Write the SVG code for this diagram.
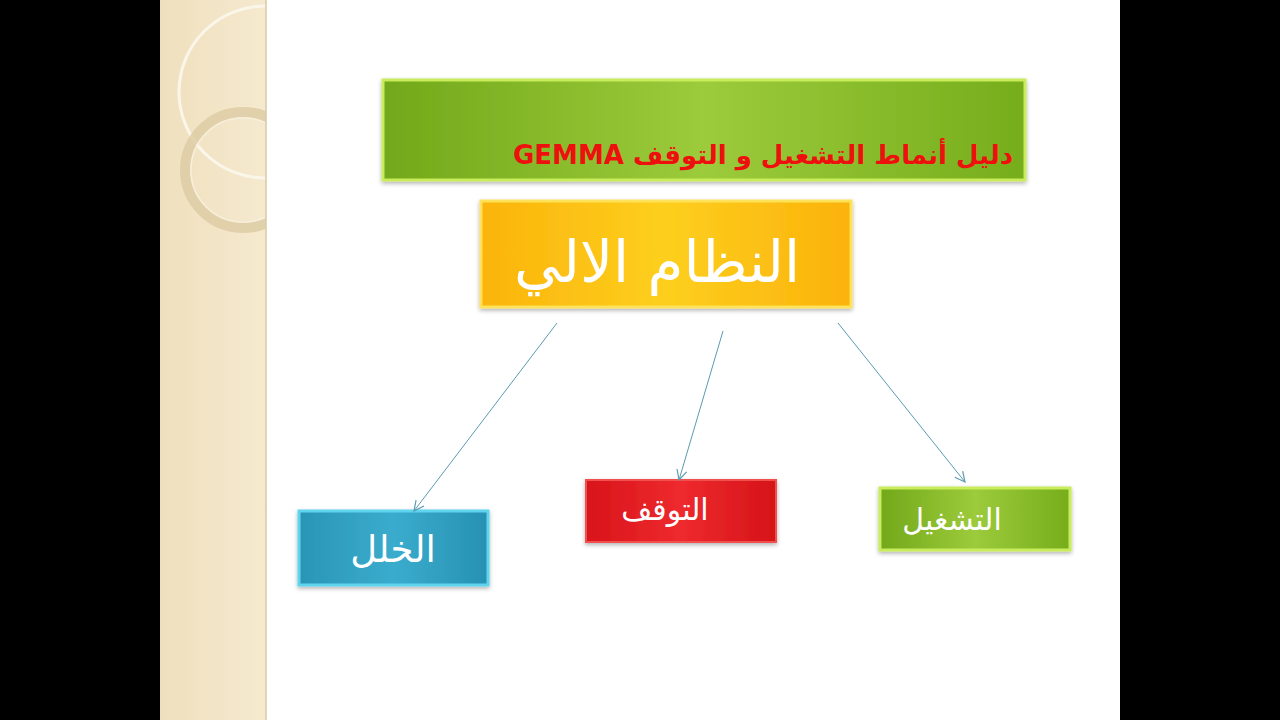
<svg xmlns="http://www.w3.org/2000/svg" width="1280" height="720" viewBox="0 0 1280 720">
<defs>
<linearGradient id="gGreen" x1="0" y1="0" x2="1" y2="0">
<stop offset="0" stop-color="#72a81a"/><stop offset="0.5" stop-color="#9ccb3b"/><stop offset="1" stop-color="#76ad1c"/>
</linearGradient>
<linearGradient id="gOrange" x1="0" y1="0" x2="1" y2="0">
<stop offset="0" stop-color="#fbb40a"/><stop offset="0.5" stop-color="#fdcf1f"/><stop offset="1" stop-color="#fbb20a"/>
</linearGradient>
<linearGradient id="gBlue" x1="0" y1="0" x2="1" y2="0">
<stop offset="0" stop-color="#2a95b6"/><stop offset="0.5" stop-color="#3aaccd"/><stop offset="1" stop-color="#2791b3"/>
</linearGradient>
<linearGradient id="gRed" x1="0" y1="0" x2="1" y2="0">
<stop offset="0" stop-color="#d8141a"/><stop offset="0.5" stop-color="#ee2a2e"/><stop offset="1" stop-color="#d51318"/>
</linearGradient>
<linearGradient id="gStrip" x1="0" y1="0" x2="1" y2="0">
<stop offset="0" stop-color="#efe0bd"/><stop offset="1" stop-color="#f5e9cf"/>
</linearGradient>
<clipPath id="stripClip"><rect x="160" y="0" width="106" height="720"/></clipPath>
<filter id="sh" x="-10%" y="-10%" width="120%" height="130%">
<feDropShadow dx="0" dy="2" stdDeviation="2" flood-color="#000" flood-opacity="0.3"/>
</filter>
<marker id="arr" viewBox="0 0 12 12" refX="11" refY="6" markerWidth="12" markerHeight="12" markerUnits="userSpaceOnUse" orient="auto">
<path d="M1,1 L11,6 L1,11" fill="none" stroke="#5b9bb0" stroke-width="1.2"/>
</marker>
<style>
.lbl{font-family:"DejaVu Sans","Noto Sans",sans-serif;fill:#ffffff;text-anchor:middle}
.conn{stroke:#5b9bb0;stroke-width:1;fill:none;marker-end:url(#arr)}
</style>
</defs>
<rect x="0" y="0" width="1280" height="720" fill="#000"/>
<rect x="160" y="0" width="960" height="720" fill="#fff"/>
<g id="strip">
<rect x="160" y="0" width="106" height="720" fill="url(#gStrip)"/>
<g clip-path="url(#stripClip)">
<circle cx="265" cy="92" r="86" fill="none" stroke="#fbf6ea" stroke-width="3"/>
<circle cx="243" cy="170" r="58" fill="none" stroke="#dccaa3" stroke-width="10" opacity="0.8"/>
<circle cx="243" cy="170" r="52" fill="none" stroke="#f7efdc" stroke-width="1.5"/>
</g>
<line x1="266" y1="0" x2="266" y2="720" stroke="#d8c8a4" stroke-width="1.5"/>
</g>
<g id="title">
<rect x="383" y="80" width="642" height="100" fill="url(#gGreen)" stroke="#c8ec5a" stroke-width="3" filter="url(#sh)"/>
<text x="1013" y="164" direction="rtl" text-anchor="start" font-family="DejaVu Sans,'Noto Sans',sans-serif" font-weight="bold" font-size="26" fill="#ee0f0f">دليل أنماط التشغيل و التوقف GEMMA</text>
</g>
<g id="root">
<rect x="481" y="201" width="370" height="106" fill="url(#gOrange)" stroke="#fde25a" stroke-width="3" filter="url(#sh)"/>
<text class="lbl" x="657" y="282" font-size="58" direction="rtl">النظام الالي</text>
</g>
<g id="khalal">
<rect x="299" y="511" width="189" height="74" fill="url(#gBlue)" stroke="#5fd4ee" stroke-width="3" filter="url(#sh)"/>
<text class="lbl" x="393" y="562" font-size="37" direction="rtl">الخلل</text>
</g>
<g id="tawaqquf">
<rect x="586" y="480" width="190" height="62" fill="url(#gRed)" stroke="#f25050" stroke-width="2" filter="url(#sh)"/>
<text class="lbl" x="665" y="520" font-size="30" direction="rtl">التوقف</text>
</g>
<g id="tashghil">
<rect x="880" y="488" width="190" height="62" fill="url(#gGreen)" stroke="#c8ec5a" stroke-width="3" filter="url(#sh)"/>
<text class="lbl" x="952" y="530" font-size="30" direction="rtl">التشغيل</text>
</g>
<g id="connectors">
<line class="conn" x1="557" y1="323" x2="414" y2="511"/>
<line class="conn" x1="723" y1="331" x2="679" y2="480"/>
<line class="conn" x1="838" y1="323" x2="965" y2="482"/>
</g>
</svg>
